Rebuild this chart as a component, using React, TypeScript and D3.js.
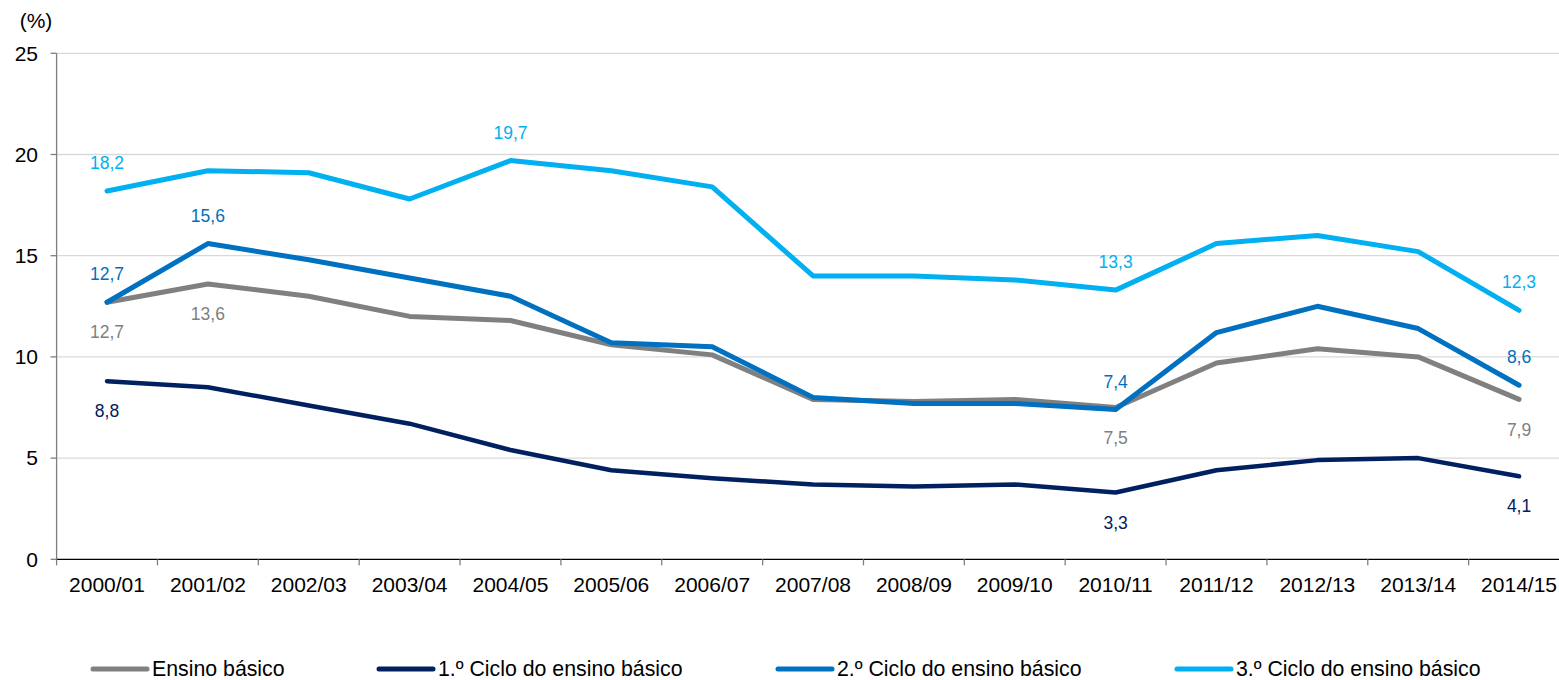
import React from "react";
import * as d3 from "d3";

const categories = ["2000/01","2001/02","2002/03","2003/04","2004/05","2005/06","2006/07","2007/08","2008/09","2009/10","2010/11","2011/12","2012/13","2013/14","2014/15"];
const ensinoBasico = [12.7,13.6,13.0,12.0,11.8,10.6,10.1,7.9,7.8,7.9,7.5,9.7,10.4,10.0,7.9];
const ciclo1 = [8.8,8.5,7.6,6.7,5.4,4.4,4.0,3.7,3.6,3.7,3.3,4.4,4.9,5.0,4.1];
const ciclo2 = [12.7,15.6,14.8,13.9,13.0,10.7,10.5,8.0,7.7,7.7,7.4,11.2,12.5,11.4,8.6];
const ciclo3 = [18.2,19.2,19.1,17.8,19.7,19.2,18.4,14.0,14.0,13.8,13.3,15.6,16.0,15.2,12.3];
const yTicks = [0,5,10,15,20,25];

const series = [
  { name: "Ensino básico", values: ensinoBasico, color: "#808080", labelIdx: [0,1,10,14], above: false },
  { name: "1.º Ciclo do ensino básico", values: ciclo1, color: "#002060", labelIdx: [0,10,14], above: false },
  { name: "2.º Ciclo do ensino básico", values: ciclo2, color: "#0070C0", labelIdx: [0,1,10,14], above: true },
  { name: "3.º Ciclo do ensino básico", values: ciclo3, color: "#00B0F0", labelIdx: [0,4,10,14], above: true },
];
const legendX = [93, 379, 778, 1177];

const W = 1559, H = 680;
const left = 56.6, top = 53.3, bottom = 559.3;
const band = 100.86;
const FONT = "Liberation Sans, Arial, sans-serif";

export default function App() {
  const x = d3.scaleBand<string>().domain(categories).range([left, left + band * categories.length]).padding(0);
  const y = d3.scaleLinear().domain([0, 25]).range([bottom, top]);
  const cx = (c: string) => (x(c) as number) + x.bandwidth() / 2;
  const line = d3.line<number>().x((_, i) => cx(categories[i])).y((d) => y(d));
  const fmt = (v: number) => v.toFixed(1).replace(".", ",");
  const rightEdge = left + band * categories.length;

  return (
    <svg width={W} height={H} style={{ position: "absolute", left: 0, top: 0, background: "#fff" }} fontFamily={FONT}>
      {yTicks.filter((t) => t > 0).map((t) => (
        <line key={"g" + t} x1={left} x2={rightEdge} y1={y(t)} y2={y(t)} stroke="#D9D9D9" strokeWidth={1.3} />
      ))}
      <line x1={left} x2={left} y1={y(25)} y2={y(0)} stroke="#7F7F7F" strokeWidth={1.3} />
      {yTicks.map((t) => (
        <g key={"yt" + t}>
          <line x1={left - 6} x2={left} y1={y(t)} y2={y(t)} stroke="#7F7F7F" strokeWidth={1.3} />
          <text x={38} y={y(t)} dy="0.35em" textAnchor="end" fontSize={21} fill="#000">{t}</text>
        </g>
      ))}
      <text x={36} y={28} textAnchor="middle" fontSize={21} fill="#000">(%)</text>
      <line x1={left} x2={rightEdge} y1={y(0)} y2={y(0)} stroke="#000" strokeWidth={1.3} />
      {d3.range(categories.length + 1).map((i) => (
        <line key={"xt" + i} x1={left + i * band} x2={left + i * band} y1={y(0)} y2={y(0) + 6} stroke="#7F7F7F" strokeWidth={1.3} />
      ))}
      {categories.map((c) => (
        <text key={"xl" + c} x={cx(c)} y={592} textAnchor="middle" fontSize={21} fill="#000">{c}</text>
      ))}
      {series.map((s) => (
        <path key={s.name} d={line(s.values) as string} fill="none" stroke={s.color} strokeWidth={s.color === "#002060" ? 4.5 : 5} strokeLinejoin="round" strokeLinecap="round" />
      ))}
      {series.map((s) =>
        s.labelIdx.map((i) => (
          <text key={s.name + i} x={cx(categories[i])} y={y(s.values[i]) + (s.above ? -28 : 30)} dy="0.35em" textAnchor="middle" fontSize={17.5} fill={s.color}>
            {fmt(s.values[i])}
          </text>
        ))
      )}
      {series.map((s, k) => (
        <g key={"lg" + k}>
          <line x1={legendX[k]} x2={legendX[k] + 54} y1={669} y2={669} stroke={s.color} strokeWidth={5} strokeLinecap="round" />
          <text x={legendX[k] + 59} y={676} fontSize={21.3} fill="#000">{s.name}</text>
        </g>
      ))}
    </svg>
  );
}
